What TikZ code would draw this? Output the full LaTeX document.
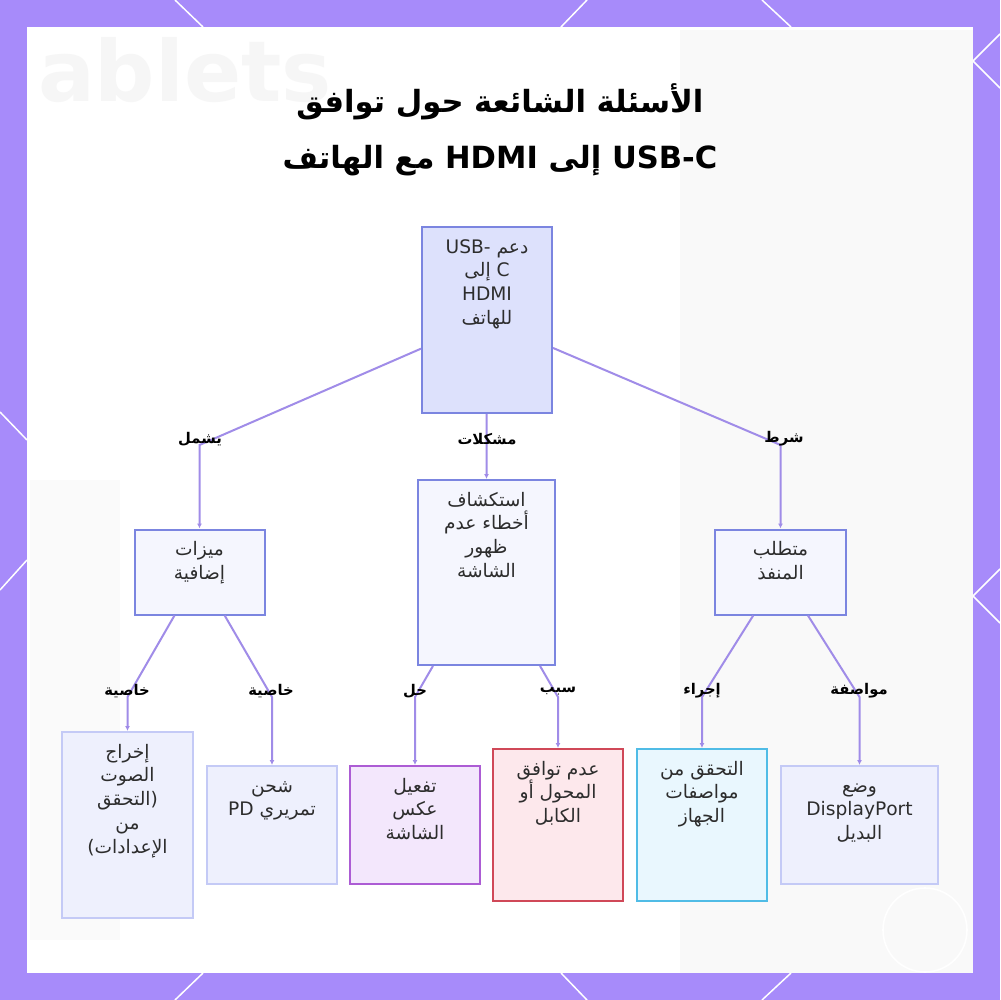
\documentclass[tikz,border=0pt]{standalone}
\usepackage{fontspec}
\usetikzlibrary{arrows.meta}
\TeXXeTstate=1
\newfontfamily\arfont[Script=Arabic]{DejaVu Sans}
\newfontfamily\lafont{DejaVu Sans}

\definecolor{frameC}{RGB}{167,139,250}
\definecolor{connC}{RGB}{160,140,232}
\definecolor{txtC}{RGB}{45,45,45}
\definecolor{rootBd}{RGB}{123,133,224}
\definecolor{rootFl}{RGB}{221,225,252}
\definecolor{midBd}{RGB}{123,133,224}
\definecolor{midFl}{RGB}{245,246,254}
\definecolor{liteBd}{RGB}{196,202,246}
\definecolor{liteFl}{RGB}{238,240,253}
\definecolor{purpBd}{RGB}{172,92,212}
\definecolor{purpFl}{RGB}{243,231,252}
\definecolor{redBd}{RGB}{208,72,88}
\definecolor{redFl}{RGB}{253,232,236}
\definecolor{cyanBd}{RGB}{80,188,230}
\definecolor{cyanFl}{RGB}{233,247,254}

\newlength\upx
\setlength\upx{0.05cm}
% box text: width, height (in px), top aligned lines
\newcommand{\boxtxt}[3]{\parbox[c][#2\upx][t]{#1\upx}{\arfont\fontsize{26.5}{34.1}\selectfont\centering\rule{0pt}{26\upx}#3}}

\begin{document}
\begin{tikzpicture}[x=0.05cm, y=-0.05cm,
    box/.style={draw=#1Bd, fill=#1Fl, line width=0.1cm, inner sep=0pt, text=txtC},
    conn/.style={draw=connC, line width=0.1cm, -{Latex[length=0.25cm,width=0.25cm]}},
    elbl/.style={font=\arfont\bfseries\fontsize{21}{24}\selectfont, text=black, inner sep=1pt},
    tword/.style={font=\arfont\bfseries\fontsize{43.5}{78}\selectfont, text=black, inner sep=0pt},
    rim/.style={white, line width=0.075cm}]

    \useasboundingbox (0,0) rectangle (1000,1000);

    % frame and card
    \fill[frameC] (0,0) rectangle (1000,1000);
    \draw[rim] (175,0) -- (203,27);
    \draw[rim] (587,0) -- (561,27);
    \draw[rim] (762,0) -- (791,27);
    \draw[rim] (203,973) -- (175,1000);
    \draw[rim] (561,973) -- (587,1000);
    \draw[rim] (791,973) -- (762,1000);
    \draw[rim] (0,412) -- (27,440);
    \draw[rim] (27,560) -- (0,590);
    \draw[rim] (1000,34) -- (973,61) -- (1000,88);
    \draw[rim] (1000,569) -- (973,596) -- (1000,623);
    \fill[white] (27,27) rectangle (973,973);

    % faint backdrop
    \fill[gray!5] (680,30) rectangle (973,973);
    \fill[gray!4] (30,480) rectangle (120,940);
    \node[text=gray!7, font=\lafont\bfseries\fontsize{120}{120}\selectfont] (wm) at (185,70) {ablets};
    \draw[white, line width=0.08cm] (925,930) circle (42);

    % title
    \node[tword] (title) at (500,102) {\beginR الأسئلة الشائعة حول توافق\endR};
    \node[tword, anchor=base] (title2) at (500,168)
      {\beginR\beginL{\lafont USB-C}\endL{} إلى \beginL{\lafont HDMI}\endL{} مع الهاتف\endR};

    % top
    \node[box=root] (root) at (487,320)
      {\boxtxt{130}{186}{\beginR دعم \beginL USB-\endL\endR\\ \beginR C إلى\endR\\ HDMI\\ \beginR للهاتف\endR}};

    % second row
    \node[box=mid] (feat) at (199.5,572)
      {\boxtxt{130}{85}{\beginR ميزات\endR\\ \beginR إضافية\endR}};
    \node[box=mid] (trbl) at (486.5,572.5)
      {\boxtxt{137}{185}{\beginR استكشاف\endR\\ \beginR أخطاء عدم\endR\\ \beginR ظهور\endR\\ \beginR الشاشة\endR}};
    \node[box=mid] (port) at (780.5,572)
      {\boxtxt{131}{85}{\beginR متطلب\endR\\ \beginR المنفذ\endR}};

    % third row
    \node[box=lite] (audio) at (127.5,825)
      {\boxtxt{131}{186}{\beginR إخراج\endR\\ \beginR الصوت\endR\\ \beginR (التحقق\endR\\ \beginR من\endR\\ \beginR الإعدادات)\endR}};
    \node[box=lite] (pd) at (272,825)
      {\boxtxt{130}{118}{\beginR شحن\endR\\ \beginR تمريري PD\endR}};
    \node[box=purp] (mirr) at (415,825)
      {\boxtxt{130}{118}{\beginR تفعيل\endR\\ \beginR عكس\endR\\ \beginR الشاشة\endR}};
    \node[box=red] (cable) at (558,825)
      {\boxtxt{130}{152}{\beginR عدم توافق\endR\\ \beginR المحول أو\endR\\ \beginR الكابل\endR}};
    \node[box=cyan] (spec) at (702,825)
      {\boxtxt{130}{152}{\beginR التحقق من\endR\\ \beginR مواصفات\endR\\ \beginR الجهاز\endR}};
    \node[box=lite] (dport) at (859.5,825)
      {\boxtxt{157}{118}{\beginR وضع\endR\\ DisplayPort\\ \beginR البديل\endR}};

    % bends
    \coordinate (bInc)  at (199.5,445);
    \coordinate (bIss)  at (486.5,445);
    \coordinate (bCnd)  at (780.5,445);
    \coordinate (bAud)  at (127.5,697);
    \coordinate (bPd)   at (272,697);
    \coordinate (bFix)  at (415,697);
    \coordinate (bWhy)  at (558,697);
    \coordinate (bAct)  at (702,697);
    \coordinate (bSpec) at (859.5,697);

    \draw[conn] (root) -- (bInc) -- (feat);
    \draw[conn] (root) -- (bIss) -- (trbl);
    \draw[conn] (root) -- (bCnd) -- (port);
    \draw[conn] (feat) -- (bAud) -- (audio);
    \draw[conn] (feat) -- (bPd) -- (pd);
    \draw[conn] (trbl) -- (bFix) -- (mirr);
    \draw[conn] (trbl) -- (bWhy) -- (cable);
    \draw[conn] (port) -- (bAct) -- (spec);
    \draw[conn] (port) -- (bSpec) -- (dport);

    % edge labels
    \node[elbl] (lInc)  at (200,439)   {\beginR يشمل\endR};
    \node[elbl] (lIss)  at (487,439)   {\beginR مشكلات\endR};
    \node[elbl] (lCnd)  at (784,439)   {\beginR شرط\endR};
    \node[elbl] (lAud)  at (127,691)   {\beginR خاصية\endR};
    \node[elbl] (lPd)   at (271,691)   {\beginR خاصية\endR};
    \node[elbl] (lFix)  at (415,691)   {\beginR حل\endR};
    \node[elbl] (lWhy)  at (558,691)   {\beginR سبب\endR};
    \node[elbl] (lAct)  at (702,691)   {\beginR إجراء\endR};
    \node[elbl] (lSpec) at (859,691)   {\beginR مواصفة\endR};
\end{tikzpicture}
\end{document}
